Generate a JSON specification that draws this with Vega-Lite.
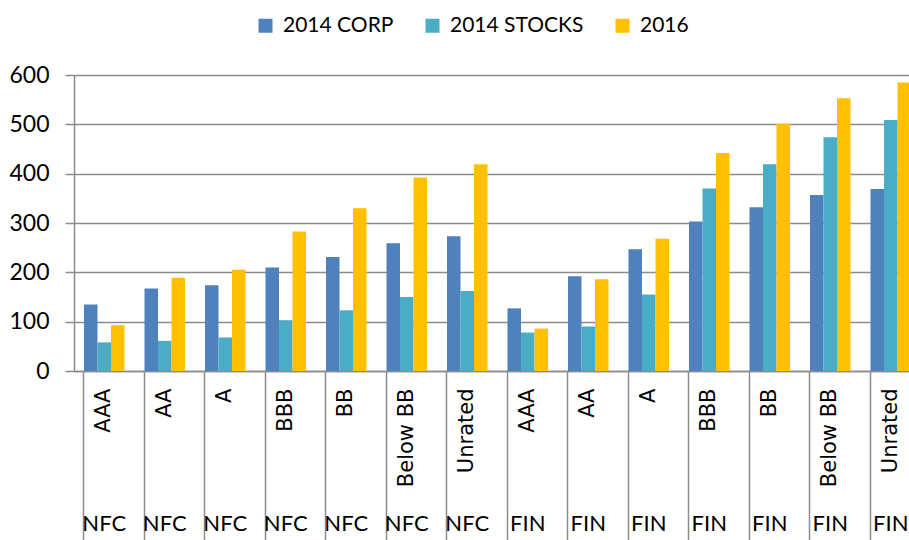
{
  "$schema": "https://vega.github.io/schema/vega-lite/v6.json",
  "width": 835,
  "height": 296,
  "autosize": {"type": "none"},
  "padding": {"left": 74, "top": 75, "right": 0, "bottom": 169},
  "background": "white",
  "config": {
    "view": {"stroke": null},
    "axis": {"labelColor": "black", "domainColor": "#8c8c8c", "tickColor": "#8c8c8c", "gridColor": "#8c8c8c", "domainWidth": 1.5, "tickWidth": 1.5, "gridWidth": 1.5, "title": null}
  },
  "data": {"values": [
    {"key": "NFC|AAA", "series": "2014 CORP", "value": 135},
    {"key": "NFC|AAA", "series": "2014 STOCKS", "value": 58},
    {"key": "NFC|AAA", "series": "2016", "value": 93},
    {"key": "NFC|AA", "series": "2014 CORP", "value": 167},
    {"key": "NFC|AA", "series": "2014 STOCKS", "value": 61},
    {"key": "NFC|AA", "series": "2016", "value": 189},
    {"key": "NFC|A", "series": "2014 CORP", "value": 174},
    {"key": "NFC|A", "series": "2014 STOCKS", "value": 68},
    {"key": "NFC|A", "series": "2016", "value": 205},
    {"key": "NFC|BBB", "series": "2014 CORP", "value": 210},
    {"key": "NFC|BBB", "series": "2014 STOCKS", "value": 103},
    {"key": "NFC|BBB", "series": "2016", "value": 283},
    {"key": "NFC|BB", "series": "2014 CORP", "value": 231},
    {"key": "NFC|BB", "series": "2014 STOCKS", "value": 123},
    {"key": "NFC|BB", "series": "2016", "value": 330},
    {"key": "NFC|Below BB", "series": "2014 CORP", "value": 259},
    {"key": "NFC|Below BB", "series": "2014 STOCKS", "value": 150},
    {"key": "NFC|Below BB", "series": "2016", "value": 392},
    {"key": "NFC|Unrated", "series": "2014 CORP", "value": 273},
    {"key": "NFC|Unrated", "series": "2014 STOCKS", "value": 162},
    {"key": "NFC|Unrated", "series": "2016", "value": 419},
    {"key": "FIN|AAA", "series": "2014 CORP", "value": 127},
    {"key": "FIN|AAA", "series": "2014 STOCKS", "value": 78},
    {"key": "FIN|AAA", "series": "2016", "value": 86},
    {"key": "FIN|AA", "series": "2014 CORP", "value": 192},
    {"key": "FIN|AA", "series": "2014 STOCKS", "value": 90},
    {"key": "FIN|AA", "series": "2016", "value": 186},
    {"key": "FIN|A", "series": "2014 CORP", "value": 247},
    {"key": "FIN|A", "series": "2014 STOCKS", "value": 155},
    {"key": "FIN|A", "series": "2016", "value": 268},
    {"key": "FIN|BBB", "series": "2014 CORP", "value": 303},
    {"key": "FIN|BBB", "series": "2014 STOCKS", "value": 370},
    {"key": "FIN|BBB", "series": "2016", "value": 442},
    {"key": "FIN|BB", "series": "2014 CORP", "value": 332},
    {"key": "FIN|BB", "series": "2014 STOCKS", "value": 419},
    {"key": "FIN|BB", "series": "2016", "value": 501},
    {"key": "FIN|Below BB", "series": "2014 CORP", "value": 357},
    {"key": "FIN|Below BB", "series": "2014 STOCKS", "value": 474},
    {"key": "FIN|Below BB", "series": "2016", "value": 553},
    {"key": "FIN|Unrated", "series": "2014 CORP", "value": 369},
    {"key": "FIN|Unrated", "series": "2014 STOCKS", "value": 509},
    {"key": "FIN|Unrated", "series": "2016", "value": 585}
  ]},
  "layer": [
    {
      "mark": {"type": "bar"},
      "encoding": {
        "x": {
          "field": "key", "type": "nominal", "sort": null,
          "scale": {"range": [0, 847], "paddingInner": 0.33, "paddingOuter": 0.165},
          "axis": {
            "orient": "bottom", "ticks": false, "domain": true, "grid": false,
            "labelAngle": 270, "labelAlign": "right", "labelBaseline": "middle",
            "labelPadding": 17, "labelFont": "DejaVu Sans", "labelFontSize": 21,
            "labelExpr": "split(datum.label, '|')[1]"
          }
        },
        "xOffset": {"field": "series", "type": "nominal", "sort": ["2014 CORP", "2014 STOCKS", "2016"]},
        "y": {
          "field": "value", "type": "quantitative",
          "scale": {"domain": [0, 600], "nice": false},
          "axis": {
            "values": [0, 100, 200, 300, 400, 500, 600], "grid": true, "domain": true,
            "tickSize": 9, "labelPadding": 16, "labelFont": "Lato", "labelFontSize": 23
          }
        },
        "color": {
          "field": "series", "type": "nominal",
          "scale": {"domain": ["2014 CORP", "2014 STOCKS", "2016"], "range": ["#4F81BD", "#4BACC6", "#FFC000"]},
          "legend": {
            "title": null, "orient": "none", "direction": "horizontal",
            "legendX": 181, "legendY": -60,
            "symbolType": "square", "symbolSize": 196, "symbolStrokeWidth": 0, "symbolOpacity": 1,
            "labelFont": "Lato", "labelFontSize": 21, "labelColor": "black",
            "labelOffset": 7, "columnPadding": 28
          }
        }
      }
    },
    {
      "mark": {"type": "bar", "opacity": 0},
      "encoding": {
        "x": {
          "field": "key", "type": "nominal", "sort": null,
          "axis": {
            "orient": "bottom", "ticks": true, "tickSize": 169, "bandPosition": 0,
            "domain": false, "grid": false,
            "labelAngle": 0, "labelAlign": "center", "labelBaseline": "top",
            "labelPadding": -27, "labelFont": "Lato", "labelFontSize": 22,
            "labelExpr": "split(datum.label, '|')[0]"
          }
        },
        "y": {"field": "value", "type": "quantitative"}
      }
    }
  ],
  "resolve": {"axis": {"x": "independent"}}
}
